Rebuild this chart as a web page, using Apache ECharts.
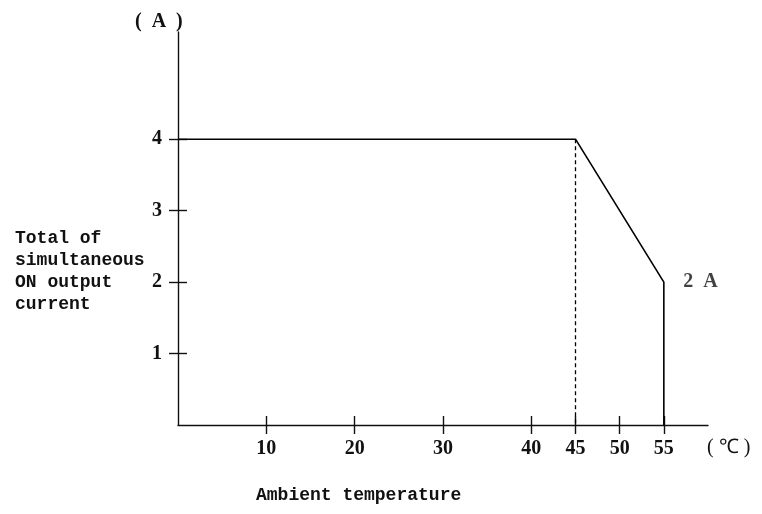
<!DOCTYPE html>
<html>
<head>
<meta charset="utf-8">
<script src="https://cdn.jsdelivr.net/npm/echarts@6/dist/echarts.min.js"></script>
<style>
html,body{margin:0;padding:0;background:#fff;}
#chart{width:762px;height:514px;}
</style>
</head>
<body>
<div id="chart"></div>
<script>
// Data
const temps = [0, 45, 55, 55];
const currents = [4, 4, 2, 0];
const guideTemps = [45, 45];
const guideCurrents = [4, 0];
const endPoint = [55, 2];
const xTickValues = [10, 20, 30, 40, 45, 50, 55];
const yTickValues = [1, 2, 3, 4];
const yLabelLines = ['Total of', 'simultaneous', 'ON output', 'current'];
const endLabel = '2  A';
const xUnit = '( ℃ )';
const yUnit = '(  A  )';
const xTitle = 'Ambient temperature';

const mainLine = temps.map((t, i) => [t, currents[i]]);
const guideLine = guideTemps.map((t, i) => [t, guideCurrents[i]]);

const numFont = { fontFamily: 'Liberation Serif', fontSize: 20, fontWeight: 'bold', color: '#111' };
const axisLineStyle = { color: '#111', width: 1.4 };

const chart = echarts.init(document.getElementById('chart'), null, { renderer: 'canvas' });
chart.setOption({
  animation: false,
  backgroundColor: '#fff',
  grid: { left: 178, right: 54, top: 32, bottom: 89, containLabel: false },
  xAxis: [
    {
      type: 'value', min: 0, max: 60,
      axisLine: { show: true, lineStyle: axisLineStyle },
      splitLine: { show: false },
      axisTick: { show: true, length: 9, customValues: xTickValues, lineStyle: axisLineStyle },
      axisLabel: { show: true, customValues: xTickValues, margin: 14, ...numFont }
    },
    {
      type: 'value', min: 0, max: 60, position: 'bottom',
      axisLine: { show: false },
      splitLine: { show: false },
      axisTick: { show: true, inside: true, length: 9, customValues: xTickValues, lineStyle: axisLineStyle },
      axisLabel: { show: false }
    }
  ],
  yAxis: [
    {
      type: 'value', min: 0, max: 5.5,
      axisLine: { show: true, lineStyle: axisLineStyle },
      splitLine: { show: false },
      axisTick: { show: true, length: 9, customValues: yTickValues, lineStyle: axisLineStyle },
      axisLabel: { show: true, customValues: yTickValues, margin: 16, ...numFont }
    },
    {
      type: 'value', min: 0, max: 5.5, position: 'left',
      axisLine: { show: false },
      splitLine: { show: false },
      axisTick: { show: true, inside: true, length: 9, customValues: yTickValues, lineStyle: axisLineStyle },
      axisLabel: { show: false }
    }
  ],
  series: [
    {
      type: 'line', data: mainLine, symbol: 'none',
      lineStyle: { color: '#000', width: 1.6 },
      z: 3
    },
    {
      type: 'line', data: guideLine, symbol: 'none',
      lineStyle: { color: '#000', width: 1.3, type: [4, 3] },
      z: 2
    },
    {
      type: 'scatter', data: [endPoint], symbolSize: 1,
      itemStyle: { color: 'rgba(0,0,0,0)' },
      label: { show: true, formatter: endLabel, position: 'right', distance: 19,
        fontFamily: 'Liberation Serif', fontSize: 20, fontWeight: 'bold', color: '#111' },
      z: 4
    }
  ],
  graphic: [
    {
      type: 'text', left: 15, top: 227,
      style: { text: yLabelLines.join('\n'), fontFamily: 'Liberation Mono', fontSize: 18,
        fontWeight: 'bold', lineHeight: 22, fill: '#111' }
    },
    {
      type: 'text', left: 135, top: 12,
      style: { text: yUnit, fontFamily: 'Liberation Serif', fontSize: 20, fontWeight: 'bold', fill: '#111' }
    },
    {
      type: 'text', left: 707, top: 438,
      style: { text: xUnit, fontFamily: 'Liberation Serif', fontSize: 20, fill: '#111' }
    },
    {
      type: 'text', left: 256, top: 486,
      style: { text: xTitle, fontFamily: 'Liberation Mono', fontSize: 18, fontWeight: 'bold', fill: '#111' }
    }
  ]
});
</script>
</body>
</html>
